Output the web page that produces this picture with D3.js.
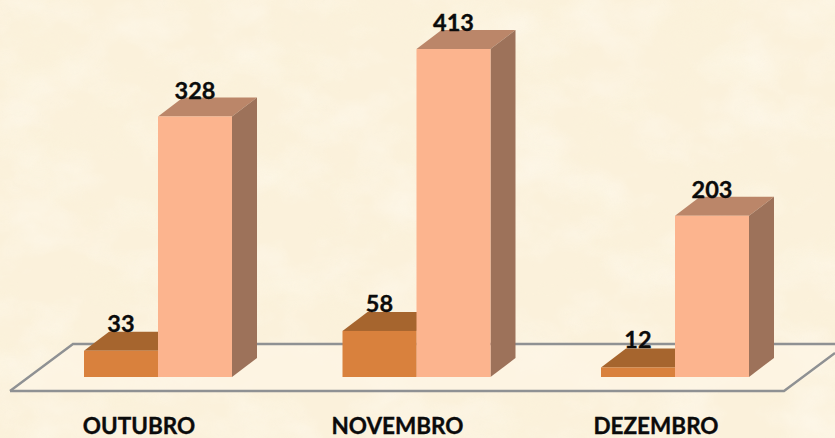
<!DOCTYPE html>
<html><head><meta charset="utf-8">
<script src="https://cdnjs.cloudflare.com/ajax/libs/d3/7.8.5/d3.min.js"></script>
<style>html,body{margin:0;padding:0;background:#fbf1dc;overflow:hidden}svg{display:block}text{font-family:Lato,"Open Sans",sans-serif;font-weight:700;fill:#0b0b0b;stroke:#0b0b0b;stroke-width:.35px}</style>
</head><body><svg id="c" width="835" height="438"></svg>
<script>
const categories = ["OUTUBRO","NOVEMBRO","DEZEMBRO"];
const seriesA = [33,58,12];
const seriesB = [328,413,203];
const svg = d3.select("#c");
const W=835,H=438;
const defs = svg.append("defs");
const f = defs.append("filter").attr("id","paper").attr("x",0).attr("y",0).attr("width","100%").attr("height","100%");
f.append("feTurbulence").attr("type","fractalNoise").attr("baseFrequency","0.014 0.02").attr("numOctaves",4).attr("seed",7);
f.append("feColorMatrix").attr("type","matrix").attr("values","0 0 0 0 1  0 0 0 0 0.97  0 0 0 0 0.90  2.2 0 0 0 -0.95");
const f2 = defs.append("filter").attr("id","paper2").attr("x",0).attr("y",0).attr("width","100%").attr("height","100%");
f2.append("feTurbulence").attr("type","fractalNoise").attr("baseFrequency","0.012 0.018").attr("numOctaves",4).attr("seed",23);
f2.append("feColorMatrix").attr("type","matrix").attr("values","0 0 0 0 0.96  0 0 0 0 0.90  0 0 0 0 0.70  2.2 0 0 0 -0.95");
svg.append("rect").attr("width",W).attr("height",H).attr("fill","#fbf1db");
svg.append("rect").attr("width",W).attr("height",H).attr("filter","url(#paper)").attr("opacity",.5);
svg.append("rect").attr("width",W).attr("height",H).attr("filter","url(#paper2)").attr("opacity",.3);

const base=377, dx=25, dy=-19;
const y = d3.scaleLinear().domain([0,413]).range([base,49]);
const x0 = d3.scaleBand().domain(categories).range([84,84+3*258.5]);
const x1 = d3.scaleBand().domain(["a","b"]).range([0,148]);
const line = d3.line();
// floor
svg.append("path").attr("d",line([[10,391],[73,344],[860,344],[784,391]])+"Z").attr("fill","#fdf5e6").attr("opacity",.7);
svg.append("path").attr("d",line([[10,391],[73,344],[835,344]])).attr("fill","none").attr("stroke","#8f9193").attr("stroke-width",2.4);
svg.append("path").attr("d",line([[10,391],[784,391],[835,353]])).attr("fill","none").attr("stroke","#8f9193").attr("stroke-width",2.4);

const styles={a:{front:"#d9813d",top:"#a6652e",side:"#a6652e"},b:{front:"#fcb48e",top:"#bb8669",side:"#9d725a"}};
function bar(g,xl,v,k){
  const w=x1.bandwidth(), t=y(v), r=xl+w, s=styles[k];
  g.append("path").attr("d",line([[xl,t],[xl+dx,t+dy],[r+dx,t+dy],[r,t]])+"Z").attr("fill",s.top);
  g.append("path").attr("d",line([[r,t],[r+dx,t+dy],[r+dx,base+dy],[r,base]])+"Z").attr("fill",s.side);
  g.append("rect").attr("x",xl).attr("y",t).attr("width",w).attr("height",base-t).attr("fill",s.front);
}
categories.forEach((c,i)=>{
  const g=svg.append("g");
  const xs=x0(c);
  bar(g,xs+x1("a"),seriesA[i],"a");
  bar(g,xs+x1("b"),seriesB[i],"b");
  const w=x1.bandwidth();
  g.append("text").attr("x",xs+x1("a")+w/2).attr("y",y(seriesA[i])-19).attr("text-anchor","middle").attr("font-size",23.5).text(seriesA[i]);
  g.append("text").attr("x",xs+x1("b")+w/2).attr("y",y(seriesB[i])-18).attr("text-anchor","middle").attr("font-size",23.5).text(seriesB[i]);
  g.append("text").attr("x",xs+55).attr("y",434).attr("text-anchor","middle").attr("font-size",22.5).text(c);
});
</script></body></html>
